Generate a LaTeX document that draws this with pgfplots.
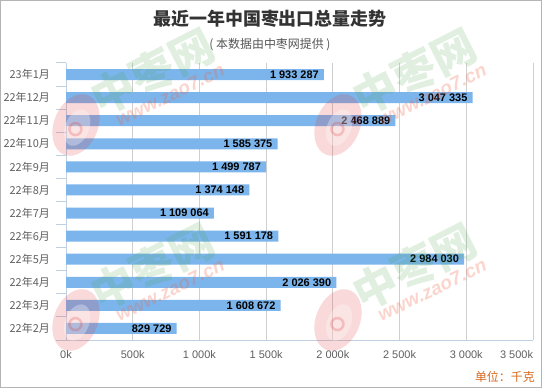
\documentclass[border=0pt]{standalone}
\usepackage{pgfplots}
\pgfplotsset{compat=1.18}
\usepackage{pgfplotstable}
\usepackage{fontspec}
\setmainfont{Liberation Sans}
\newfontfamily\cjk{Noto Sans CJK SC}
\definecolor{barcol}{HTML}{7CB5EC}
\definecolor{axiscol}{HTML}{C0D0E0}
\definecolor{gridcol}{HTML}{CFCFCF}
\definecolor{labcol}{HTML}{606060}
\definecolor{titlecol}{HTML}{333333}
\definecolor{subcol}{HTML}{555555}
\definecolor{unitcol}{HTML}{D86A1E}
\definecolor{framecol}{HTML}{B4B4B4}
\definecolor{wmgreen}{HTML}{3FA03F}
\definecolor{wmorange}{HTML}{F06040}
\definecolor{wmred}{HTML}{E03030}
\newcommand\ts{\kern0.278em}

\pgfplotstableread{
i v lab
0 829729 829\ts729
1 1608672 1\ts608\ts672
2 2026390 2\ts026\ts390
3 2984030 2\ts984\ts030
4 1591178 1\ts591\ts178
5 1109064 1\ts109\ts064
6 1374148 1\ts374\ts148
7 1499787 1\ts499\ts787
8 1585375 1\ts585\ts375
9 2468889 2\ts468\ts889
10 3047335 3\ts047\ts335
11 1933287 1\ts933\ts287
}\datatable

\begin{document}
\begin{tikzpicture}
\useasboundingbox (0,0) rectangle (542bp,388bp);
\fill[white] (0,0) rectangle (542bp,388bp);

\begin{axis}[
  at={(66bp,48bp)}, anchor=south west,
  scale only axis, width=467bp, height=277bp,
  xbar, bar width=11bp,
  xmin=0, xmax=3500000, ymin=-0.5, ymax=11.5,
  axis x line*=bottom, axis y line*=left,
  axis line style={draw=axiscol, line width=1bp, -},
  scaled x ticks=false,
  xtick={0,500000,1000000,1500000,2000000,2500000,3000000,3500000},
  xticklabels={0k,500k,1\ts000k,1\ts500k,2\ts000k,2\ts500k,3\ts000k,\makebox[0pt][r]{3\ts500k}},
  xmajorgrids, grid style={draw=gridcol, line width=1bp},
  ytick={0,...,11},
  yticklabels={22年2月,22年3月,22年4月,22年5月,22年6月,22年7月,22年8月,22年9月,22年10月,22年11月,22年12月,23年1月},
  minor ytick={-0.5,0.5,...,11.5},
  major tick length=0pt, minor tick length=10bp, tick align=outside,
  minor tick style={draw=axiscol, line width=1bp},
  xticklabel style={font=\fontsize{11}{13}\selectfont, text=labcol, inner sep=0pt, yshift=-10bp},
  yticklabel style={font=\cjk\fontsize{11}{13}\selectfont, text=labcol, inner sep=0pt, xshift=-16bp},
  point meta=explicit symbolic,
  nodes near coords={\pgfplotspointmeta},
  nodes near coords style={font=\bfseries\fontsize{11}{13}\selectfont, text=black, anchor=east, xshift=-5bp, inner sep=0pt},
  clip=false,
]
\addplot[fill=barcol, draw=none] table[x=v, y=i, meta=lab] {\datatable};
\end{axis}

\begin{scope}[x=1bp, y=1bp]
% watermarks
\foreach \dx/\dy in {0/0,262/0,0/195,262/195}{
  \begin{scope}[shift={(76+\dx,263-\dy)}, rotate=-22]
    \fill[wmred, opacity=0.18] (0,0) ellipse [x radius=22bp, y radius=32bp];
    \fill[white, opacity=0.3] (2,-2) ellipse [x radius=12bp, y radius=19bp];
    \draw[wmred, opacity=0.22, line width=2.5bp] (1,-4) circle [radius=6bp];
  \end{scope}
  \node[rotate=27, text=wmgreen, opacity=0.16, font=\cjk\bfseries\fontsize{44}{46}\selectfont] at (153+\dx,316-\dy) {中枣网};
  \node[rotate=26, text=wmorange, opacity=0.26, font=\bfseries\itshape\fontsize{19}{21}\selectfont] at (170+\dx,293-\dy) {www.zao7.cn};
}
% titles
\node[text=titlecol, font=\cjk\bfseries\fontsize{18}{20}\selectfont] at (270,369) {最近一年中国枣出口总量走势};
\node[text=subcol, font=\cjk\fontsize{12}{14}\selectfont] at (270,343) {( 本数据由中枣网提供 )};
\node[anchor=east, text=unitcol, font=\cjk\fontsize{12}{14}\selectfont, inner sep=0pt] at (535,11.5) {单位：千克};
\draw[framecol, line width=1bp] (0.5,0.5) rectangle (541.5,387.5);
\end{scope}
\end{tikzpicture}
\end{document}
